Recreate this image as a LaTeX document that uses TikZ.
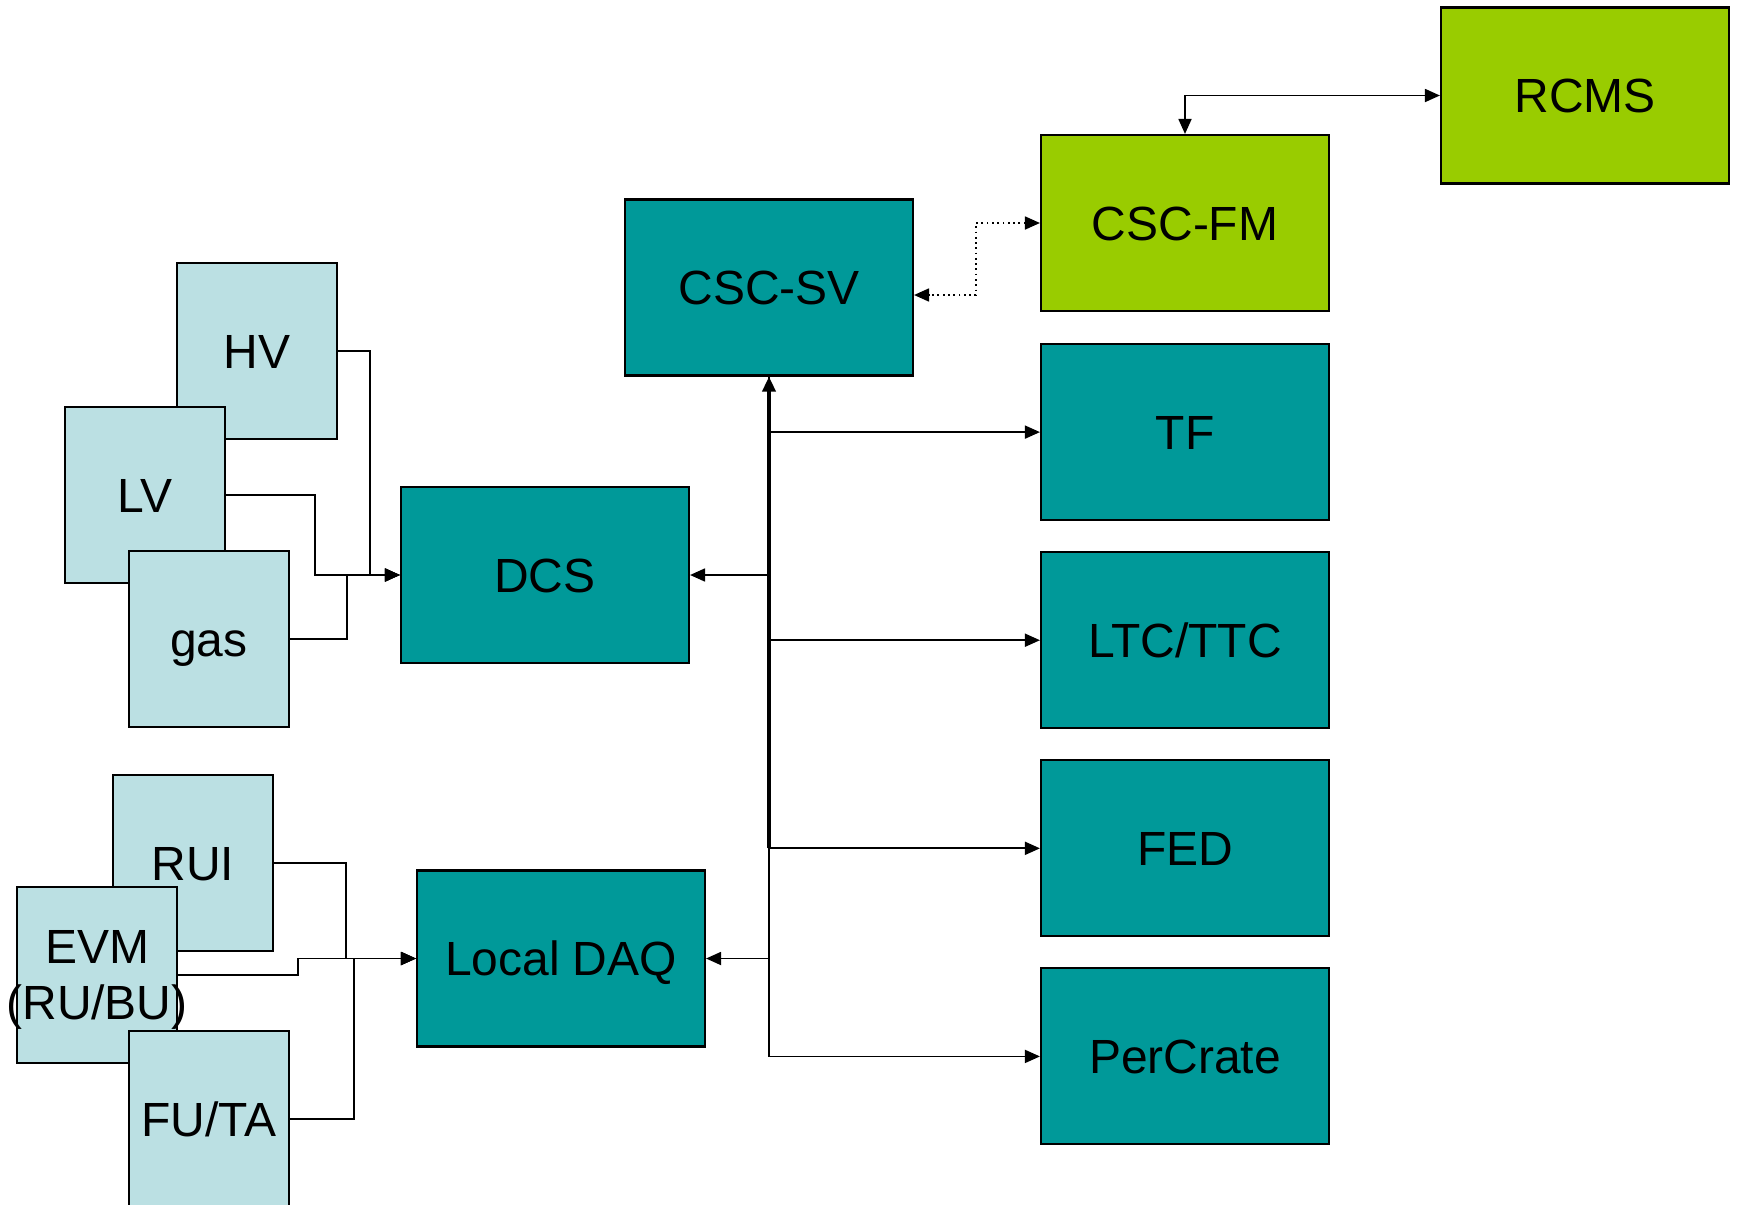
\documentclass[tikz,border=0pt]{standalone}
\usepackage{fontspec}
\setmainfont{Liberation Sans}
\usepackage{tikz}
\usetikzlibrary{arrows.meta, positioning}
\definecolor{tealbox}{RGB}{0, 153, 153}
\definecolor{greenbox}{RGB}{153, 204, 0}
\definecolor{lightbox}{RGB}{187, 224, 227}
\definecolor{linecolor}{RGB}{0, 0, 0}
\tikzstyle{mainbox} = [draw=linecolor, rectangle, minimum width=28.8mm, minimum height=17.6mm, inner sep=0pt, text height=9.8pt, text depth=0pt, fill=tealbox, line width=0.6pt]
\tikzstyle{fmbox} = [mainbox, fill=greenbox]
\tikzstyle{sidebox} = [draw=linecolor, rectangle, minimum width=16mm, minimum height=17.6mm, inner sep=0pt, text height=9.8pt, text depth=0pt, fill=lightbox, line width=0.6pt, align=center]
\tikzstyle{arrow} = [line width=0.5pt, -{Triangle[length=1.5mm, width=1.3mm]}, color=linecolor]
\tikzstyle{dualarrow} = [line width=0.5pt, {Triangle[length=1.5mm, width=1.3mm]}-{Triangle[length=1.5mm, width=1.3mm]}, color=linecolor]

\begin{document}
\begin{tikzpicture}[x=0.1mm, y=-0.1mm, font=\fontsize{13.65}{16}\selectfont]
\useasboundingbox (0,0) rectangle (1738,1205);

% Nodes
\node (rcms) [fmbox] at (1585,95.5) {RCMS};
\node (fm) [fmbox] at (1185,223) {CSC-FM};
\node (sv) [mainbox] at (769,287.5) {CSC-SV};

\node (tf) [mainbox, below=3.1mm of fm] {TF};
\node (ltc) [mainbox, below=3.0mm of tf] {LTC/TTC};
\node (fed) [mainbox, below=3.0mm of ltc] {FED};
\node (percrate) [mainbox, below=3.0mm of fed] {PerCrate};

\node (dcs) [mainbox] at (545,575) {DCS};
\node (ldaq) [mainbox] at (561,958.5) {Local DAQ};

\node (hv) [sidebox] at (257,351) {HV};
\node (lv) [sidebox] at (145,495) {LV};
\node (gas) [sidebox] at (209,639) {gas};

\node (rui) [sidebox] at (193,863) {RUI};
\node (evm) [sidebox, text height={}] at (97,975) {EVM\\\makebox[0pt]{(RU/BU)}};
\node (futa) [sidebox] at (209,1119) {FU/TA};

% Arrows
\draw [dualarrow] (fm.north) |- (rcms.west);
\draw [dualarrow, densely dotted] (fm.west) -- ++(-64,0) |- ([yshift=-0.75mm]sv.east);

\draw [arrow] (sv.south) |- (tf.west);
\draw [arrow] (sv.south) |- (ltc.west);
\draw [arrow] (sv.south) |- (fed.west);
\draw [arrow] (sv.south) |- (percrate.west);
\draw [arrow] (sv.south) |- (dcs.east);
\draw [arrow] (sv.south) |- (ldaq.east);
\draw [arrow, line width=1pt] (sv.south |- fed.west) -- (sv.south);

\draw [arrow] (hv.east) -- ++(32,0) |- (dcs.west);
\draw [arrow] (lv.east) -- ++(89,0) |- (dcs.west);
\draw [arrow] (gas.east) -- ++(57,0) |- (dcs.west);

\draw [arrow] (rui.east) -- ++(72,0) |- (ldaq.west);
\draw [arrow] (evm.east) -- ++(120,0) |- (ldaq.west);
\draw [arrow] (futa.east) -- ++(64,0) |- (ldaq.west);

\end{tikzpicture}
\end{document}
